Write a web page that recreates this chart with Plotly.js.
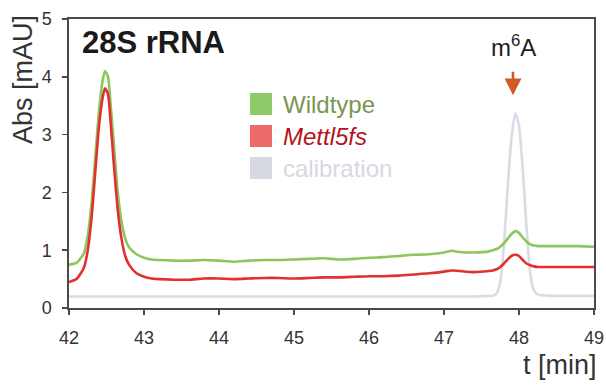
<!DOCTYPE html>
<html>
<head>
<meta charset="utf-8">
<script src="https://cdn.plot.ly/plotly-3.0.1.min.js"></script>
<style>html,body{margin:0;padding:0;background:#fff;}#chart{width:606px;height:385px;}</style>
</head>
<body>
<div id="chart"></div>
<script>
// retention time (min)
const time = [42.0, 42.1, 42.2, 42.25, 42.3, 42.35, 42.4, 42.45, 42.48, 42.52, 42.55, 42.6, 42.65, 42.7, 42.75, 42.8, 42.9, 43.0, 43.1, 43.2, 43.4, 43.6, 43.8, 44.0, 44.2, 44.4, 44.6, 44.8, 45.0, 45.2, 45.4, 45.6, 45.8, 46.0, 46.2, 46.4, 46.6, 46.8, 47.0, 47.1, 47.2, 47.4, 47.6, 47.65, 47.7, 47.75, 47.8, 47.85, 47.9, 47.95, 48.0, 48.05, 48.1, 48.15, 48.2, 48.25, 48.3, 48.4, 48.6, 48.8, 49.0];

const wildtype = [0.75, 0.78, 0.95, 1.25, 1.8, 2.6, 3.4, 3.95, 4.1, 4.0, 3.6, 2.8, 2.0, 1.5, 1.2, 1.05, 0.93, 0.87, 0.84, 0.83, 0.82, 0.82, 0.83, 0.82, 0.80, 0.82, 0.83, 0.83, 0.84, 0.85, 0.86, 0.84, 0.85, 0.87, 0.88, 0.90, 0.92, 0.93, 0.96, 0.99, 0.97, 0.96, 0.98, 1.0, 1.02, 1.06, 1.12, 1.2, 1.28, 1.33, 1.3, 1.22, 1.15, 1.1, 1.08, 1.07, 1.07, 1.07, 1.07, 1.07, 1.06];

const mettl5fs = [0.45, 0.5, 0.7, 1.0, 1.55, 2.35, 3.15, 3.65, 3.8, 3.7, 3.3, 2.45, 1.7, 1.2, 0.9, 0.75, 0.6, 0.54, 0.51, 0.5, 0.49, 0.49, 0.51, 0.51, 0.50, 0.51, 0.52, 0.52, 0.51, 0.52, 0.53, 0.53, 0.54, 0.55, 0.55, 0.56, 0.58, 0.60, 0.63, 0.65, 0.64, 0.62, 0.64, 0.65, 0.67, 0.71, 0.77, 0.84, 0.9, 0.92, 0.9, 0.83, 0.77, 0.74, 0.72, 0.71, 0.71, 0.71, 0.71, 0.71, 0.71];

const calibration = [0.2, 0.2, 0.2, 0.2, 0.2, 0.2, 0.2, 0.2, 0.2, 0.2, 0.2, 0.2, 0.2, 0.2, 0.2, 0.2, 0.2, 0.2, 0.2, 0.2, 0.2, 0.2, 0.2, 0.2, 0.2, 0.2, 0.2, 0.2, 0.2, 0.2, 0.2, 0.2, 0.2, 0.2, 0.2, 0.2, 0.2, 0.2, 0.2, 0.2, 0.2, 0.2, 0.21, 0.21, 0.25, 0.45, 1.1, 2.1, 2.95, 3.37, 3.15, 2.4, 1.4, 0.6, 0.3, 0.23, 0.22, 0.21, 0.21, 0.21, 0.21];

const seriesNames = ['Wildtype', 'Mettl5fs', 'calibration'];
const xTicks = [42, 43, 44, 45, 46, 47, 48, 49];
const yTicks = [0, 1, 2, 3, 4, 5];

const FONT = 'Liberation Sans, Arial, sans-serif';

function line(y, color, name) {
  return {x: time, y: y, type: 'scatter', mode: 'lines', name: name,
    line: {color: color, width: 2.6, shape: 'spline', smoothing: 0.6},
    hoverinfo: 'skip', showlegend: false};
}

const data = [
  line(calibration, '#d9dce4', seriesNames[2]),
  line(wildtype, '#8cc65c', seriesNames[0]),
  line(mettl5fs, '#e2302e', seriesNames[1])
];

// legend drawn as squares + labels (paper coords)
const legendRows = [
  {sq: '#8ecb68', txt: 'Wildtype', tc: '#7a9650', italic: false},
  {sq: '#ee6a68', txt: 'Mettl5fs', tc: '#b3141c', italic: true},
  {sq: '#d6d9e1', txt: 'calibration', tc: '#d6d9e1', italic: false}
];
const W = 606, H = 385, L = 69, R = 12, T = 19, B = 77;
const pw = W - L - R, ph = H - T - B;
const px = v => (v - L) / pw;
const py = v => 1 - (v - T) / ph;

const shapes = [];
const annotations = [];
legendRows.forEach((r, i) => {
  const top = 93 + i * 32;
  shapes.push({type: 'rect', xref: 'paper', yref: 'paper',
    x0: px(250), x1: px(272), y0: py(top + 22), y1: py(top),
    fillcolor: r.sq, line: {width: 0}});
  annotations.push({xref: 'paper', yref: 'paper', x: px(281), y: py(top + 11),
    xanchor: 'left', yanchor: 'middle', showarrow: false,
    text: r.italic ? '<i>' + r.txt + '</i>' : r.txt,
    font: {family: FONT, size: 24, color: r.tc}});
});

annotations.push({xref: 'paper', yref: 'paper', x: px(80), y: py(43),
  xanchor: 'left', yanchor: 'middle', showarrow: false,
  text: '<b>28S rRNA</b>', font: {family: FONT, size: 31, color: '#1a1a1a'}});

annotations.push({xref: 'paper', yref: 'paper', x: (23 - L) / pw, y: py(80),
  xanchor: 'center', yanchor: 'middle', showarrow: false, textangle: -90,
  text: 'Abs [mAU]', font: {family: FONT, size: 27, color: '#333'}});

annotations.push({xref: 'paper', yref: 'paper', x: px(599), y: py(365),
  xanchor: 'right', yanchor: 'middle', showarrow: false,
  text: 't [min]', font: {family: FONT, size: 27, color: '#333'}});

annotations.push({xref: 'x', yref: 'paper', x: 47.92, y: py(46),
  xanchor: 'center', yanchor: 'middle', showarrow: false,
  text: 'm<sup>6</sup>A', font: {family: FONT, size: 24, color: '#222'}});

annotations.push({xref: 'x', yref: 'y', x: 47.92, y: 3.68, ax: 0, ay: -32,
  axref: 'pixel', ayref: 'pixel', text: ' ', showarrow: true,
  arrowhead: 2, arrowsize: 1.3, arrowwidth: 2.6, arrowcolor: '#d35a25'});

const layout = {
  width: W, height: H,
  margin: {l: L, r: R, t: T, b: B, pad: 0},
  paper_bgcolor: '#fff', plot_bgcolor: '#fff',
  showlegend: false,
  font: {family: FONT, color: '#333'},
  xaxis: {range: [42, 49], tickvals: xTicks, ticktext: xTicks.map(String),
    showgrid: false, zeroline: false, showline: true, mirror: true,
    linecolor: '#4a4a4a', linewidth: 1.6, ticks: 'outside', ticklen: 5,
    tickcolor: '#4a4a4a', tickwidth: 1.5, ticklabelstandoff: 8,
    tickfont: {family: FONT, size: 18, color: '#333'}},
  yaxis: {range: [0, 5], tickvals: yTicks, ticktext: yTicks.map(String),
    showgrid: false, zeroline: false, showline: true, mirror: true,
    linecolor: '#4a4a4a', linewidth: 1.6, ticks: 'outside', ticklen: 5,
    tickcolor: '#4a4a4a', tickwidth: 1.5, ticklabelstandoff: 7,
    tickfont: {family: FONT, size: 18, color: '#333'}},
  shapes: shapes,
  annotations: annotations
};

Plotly.newPlot('chart', data, layout, {staticPlot: true, displayModeBar: false});
</script>
</body>
</html>
